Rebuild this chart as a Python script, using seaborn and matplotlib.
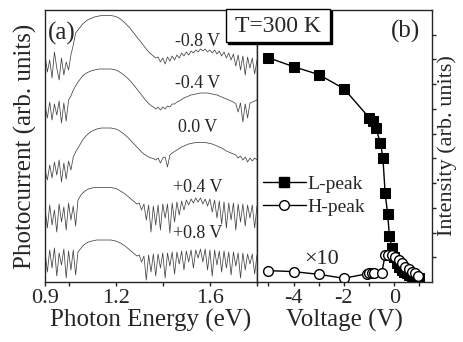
import numpy as np
import pandas as pd
import matplotlib
matplotlib.use("Agg")
import matplotlib.pyplot as plt
import seaborn as sns
from matplotlib.patches import Rectangle
from matplotlib.lines import Line2D

# ---------------- data: panel (a) photocurrent spectra ----------------
energy = np.linspace(0.90, 1.80, 91)  # eV sampling grid

spec_m08 = [25, 8, 20, 2, 28, 12, 0, 22, 5, 18,
            10, 25, 35, 47, 50, 53, 56, 58, 60, 61,
            62, 63, 63.5, 64, 64.5, 64.5, 64.5, 64.5, 64.5, 64,
            63.5, 62.5, 61, 59, 57, 54.5, 52, 49, 46, 43,
            40, 37, 34, 31, 28, 26, 24, 22, 23, 18,
            22, 16, 23, 19, 24, 20, 25, 22, 27, 24,
            28, 25, 29, 27, 30, 28, 31, 29, 31, 28,
            30, 27, 30, 26, 29, 24, 28, 22, 27, 20,
            26, 14, 25, 10, 24, 5, 23, 12, 22, 6,
            20]
spec_m04 = [18, 5, 21, 3, 19, 8, 22, 0, 20, 2,
            23, 27, 33, 37, 41, 44, 47, 49, 50.5, 51.5,
            52.5, 53, 53.5, 54, 54, 54, 54, 54, 54, 53.5,
            53, 52, 50.5, 49, 47, 45, 42.5, 40, 37, 34,
            31, 28, 25, 22, 19.5, 17.5, 16, 14, 16, 13,
            16, 14, 17, 16, 19, 19, 21, 22, 23.5, 25,
            26, 27, 28, 28.5, 29, 29.5, 30, 30, 30, 30,
            29.5, 29, 28.5, 28, 27, 26, 25, 24, 23, 22,
            21, 19, 11, 20, 1, 19, 5, 20, 21, 22,
            23]
spec_00 = [13, 3, 18, 5, 21, 8, 23, 1, 20, 4,
           22, 13, 26, 31, 35, 39, 43, 46, 48.5, 50.5,
           52, 53, 54, 54.5, 55, 55, 55, 55, 55, 54.5,
           54, 53, 51.5, 50, 48, 46, 43.5, 41, 38.5, 36,
           33.5, 31, 29, 27.5, 26, 25, 24.5, 23, 25, 20,
           25, 26, 16, 28, 30, 31.5, 33, 34.5, 36, 37,
           38, 39, 39.5, 40, 40.5, 40.5, 40.5, 40.5, 40.5, 40,
           39.5, 39, 38, 37, 36, 35, 33.5, 32, 31, 30,
           29, 28, 25, 27, 23, 26, 21, 25, 22, 25,
           23]
spec_p04 = [25, 5, 28, 8, 23, 1, 29, 11, 26, 3,
            30, 13, 27, 7, 33, 37, 40, 42, 43.5, 44.5,
            45, 45.5, 45.5, 45.5, 45.5, 45.5, 45.5, 45.5, 45.5, 45,
            44.5, 43.5, 42, 40.5, 39, 37, 35, 33, 31, 29,
            30, 23, 29, 13, 28, 1, 27, 8, 28, 3,
            29, 15, 29, 0, 30, 11, 31, 18, 32, 23,
            33, 28, 34, 30, 35, 31, 35, 29, 34, 27,
            34, 21, 33, 15, 32, 9, 31, 5, 30, 13,
            30, 3, 29, 11, 29, 7, 28, 15, 28, 5,
            27]
spec_p08 = [28, 8, 30, 12, 32, 4, 27, 15, 31, 2,
            29, 10, 30, 5, 28, 31, 34, 36, 37.5, 38.5,
            39, 39.5, 40, 40, 40, 40, 40, 40, 40, 39.5,
            39, 38, 37, 35.5, 34, 32, 30, 28, 26, 24,
            25, 18, 24, 0, 25, 8, 26, 4, 26, 12,
            27, 2, 27, 14, 28, 6, 28, 16, 29, 10,
            29, 18, 30, 12, 30, 22, 31, 18, 31, 10,
            30, 4, 30, 15, 29, 8, 29, 12, 28, 5,
            28, 14, 27, 2, 27, 10, 26, 16, 26, 6,
            25]
bias_labels = ["-0.8 V", "-0.4 V", "0.0 V", "+0.4 V", "+0.8 V"]

# ---------------- data: panel (b) peak intensities ----------------
voltage_L = [-5, -4, -3, -2, -0.99, -0.86, -0.73, -0.55, -0.45, -0.36, -0.26,
             -0.19, -0.09, 0.0, 0.1, 0.2, 0.3, 0.4, 0.5, 0.6, 0.7, 0.8, 0.9, 1.0]
intensity_L = [9.07, 8.71, 8.39, 7.82, 6.64, 6.50, 6.22, 5.63, 5.03, 3.58, 2.74,
               1.85, 1.36, 1.0, 0.78, 0.62, 0.5, 0.42, 0.35, 0.3, 0.25, 0.2, 0.18, 0.15]
voltage_H = [-5, -4, -3, -2, -1.1, -1.0, -0.9, -0.8, -0.5, -0.36, -0.23, -0.09,
             0.04, 0.17, 0.30, 0.44, 0.57, 0.70, 0.83, 0.95]
intensity_H = [0.46, 0.42, 0.31, 0.15, 0.33, 0.37, 0.38, 0.36, 0.35, 1.09, 1.08, 1.08,
               1.02, 0.89, 0.75, 0.62, 0.51, 0.42, 0.35, 0.25]

# ---------------- style ----------------
sns.set_theme(style="ticks")
plt.rcParams["font.family"] = ["Liberation Serif", "DejaVu Serif"]
plt.rcParams["axes.linewidth"] = 1.0

W, H = 463, 342
fig = plt.figure(figsize=(W / 100, H / 100), dpi=100)
ax1 = fig.add_axes([45 / W, 1 - 282 / H, 212 / W, 272 / H])
ax2 = fig.add_axes([257 / W, 1 - 282 / H, 175 / W, 272 / H])

# ---------------- panel (a) ----------------
spectra = [spec_m08, spec_m04, spec_00, spec_p04, spec_p08]
offsets = [202, 159, 99, 49, 2]
label_y = [240, 199, 155, 95, 49]
for spec, off, lab, ly in zip(spectra, offsets, bias_labels, label_y):
    df = pd.DataFrame({"E": energy, "I": np.asarray(spec) + off})
    sns.lineplot(data=df, x="E", y="I", ax=ax1, color="#444444", lw=0.55,
                 estimator=None, sort=False, legend=False)
    ax1.text(1.547, ly, lab, fontsize=13, ha="center", va="center")

ax1.set_xlim(0.9, 1.8)
ax1.set_ylim(0, 272)
ax1.set_xticks([0.9, 1.0, 1.2, 1.4, 1.6, 1.8])
ax1.set_xticklabels(["0.9", "", "1.2", "", "1.6", ""])
ax1.set_yticks([])
ax1.tick_params(axis="x", direction="out", length=3, width=1, labelsize=16, pad=2)
ax1.set_xlabel("Photon Energy (eV)", fontsize=18, labelpad=1)
ax1.set_ylabel("Photocurrent (arb. units)", fontsize=18, labelpad=6)
ax1.text(0.015, 0.915, "(a)", transform=ax1.transAxes, fontsize=18,
         ha="left", va="center")

# ---------------- panel (b) ----------------
sns.lineplot(x=voltage_L, y=intensity_L, ax=ax2, color="black", lw=1.0,
             marker="s", markersize=6.5, markerfacecolor="black",
             markeredgecolor="black", estimator=None, legend=False)
sns.lineplot(x=voltage_H, y=intensity_H, ax=ax2, color="black", lw=1.0,
             marker="o", markersize=7, markerfacecolor="white",
             markeredgecolor="black", markeredgewidth=1.0,
             estimator=None, sort=False, legend=False)

ax2.set_xlim(-5.45, 1.5)
ax2.set_ylim(0, 11)
ax2.set_xticks([-5, -4, -3, -2, -1, 0, 1])
ax2.set_xticklabels(["", "-4", "", "-2", "", "0", ""])
ax2.set_yticks(range(1, 11))
ax2.yaxis.tick_right()
ax2.yaxis.set_label_position("right")
ax2.tick_params(axis="y", direction="out", length=3, width=1, labelright=False,
                labelleft=False)
ax2.tick_params(axis="x", direction="out", length=3, width=1, labelsize=16, pad=2)
ax2.set_xlabel("Voltage (V)", fontsize=18, labelpad=1)
ax2.set_ylabel("Intensity (arb. units)", fontsize=16, labelpad=1)
ax2.text(0.93, 0.92, "(b)", transform=ax2.transAxes, fontsize=18,
         ha="right", va="center")
ax2.text(-2.9, 0.9, "×10", fontsize=16, ha="center", va="center")

handles = [
    Line2D([], [], color="black", lw=1.0, marker="s", markersize=6.5,
           markerfacecolor="black"),
    Line2D([], [], color="black", lw=1.0, marker="o", markersize=7,
           markerfacecolor="white", markeredgecolor="black"),
]
ax2.legend(handles, ["L-peak", "H-peak"], loc="upper left",
           bbox_to_anchor=(-0.01, 0.42), frameon=False, fontsize=14,
           handlelength=2.2, handletextpad=0.1, labelspacing=0.25,
           borderaxespad=0.0)

# ---------------- T=300 K box ----------------
x0, y0, x1, y1 = 226, 9, 330, 42
fig.patches.append(Rectangle(((x0 + 2) / W, 1 - (y1 + 2) / H), (x1 - x0) / W,
                             (y1 - y0) / H, transform=fig.transFigure,
                             facecolor="black", edgecolor="black", zorder=10))
fig.patches.append(Rectangle((x0 / W, 1 - y1 / H), (x1 - x0) / W, (y1 - y0) / H,
                             transform=fig.transFigure, facecolor="white",
                             edgecolor="black", lw=1.0, zorder=11))
fig.text((x0 + x1) / 2 / W, 1 - 26 / H, "T=300 K", fontsize=17,
         ha="center", va="center", zorder=12)

fig.savefig("out.png", dpi=100)
